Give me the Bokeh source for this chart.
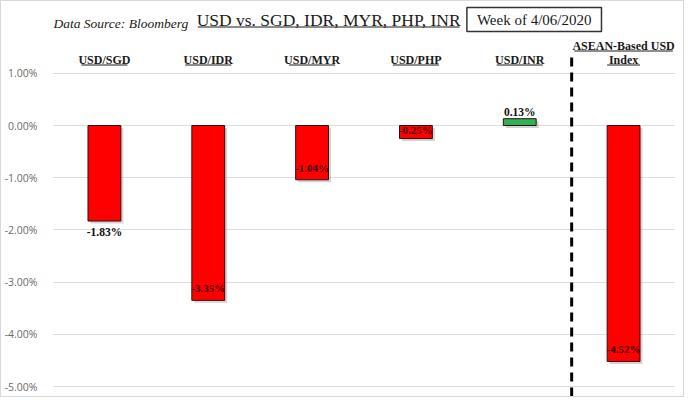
import numpy as np
from bokeh.plotting import figure
from bokeh.layouts import column
from bokeh.models import Range1d, FixedTicker, PrintfTickFormatter, Label
from bokeh.core.properties import value
from bokeh.embed import file_html
from bokeh.resources import INLINE

# ---- data ----
categories = ["USD/SGD", "USD/IDR", "USD/MYR", "USD/PHP", "USD/INR", "ASEAN-Based USD\nIndex"]
changes = [-1.83, -3.35, -1.04, -0.25, 0.13, -4.52]
value_labels = ["-1.83%", "-3.35%", "-1.04%", "-0.25%", "0.13%", "-4.52%"]
y_ticks = [-5, -4, -3, -2, -1, 0, 1]
title_text = "USD vs. SGD, IDR, MYR, PHP, INR"
source_text = "Data Source: Bloomberg"
week_text = "Week of 4/06/2020"

# ---- geometry helpers (page pixels -> data) ----
PX_X = 104.33   # pixels per category
PX_Y = 52.2     # pixels per 1%
ZERO_PAGE_Y = 133
FRAME_LEFT_PAGE = 57
FRAME_RIGHT_PAGE = 683

def dx(page_x):
    return (page_x - FRAME_LEFT_PAGE) / PX_X

def dy(page_y):
    return (ZERO_PAGE_Y - page_y) / PX_Y

W = 682
TOP, SPLIT, BOTTOM = 9, 47, 404
serif = value("Liberation Serif")

# ---------- header strip (frame is aligned with the chart frame below) ----------
hdr = figure(width=W, height=SPLIT - TOP, output_backend="svg", toolbar_location=None,
             x_axis_type=None, y_axis_type=None,
             x_range=Range1d(FRAME_LEFT_PAGE, FRAME_RIGHT_PAGE), y_range=Range1d(SPLIT, TOP),
             min_border=0, outline_line_color=None,
             background_fill_color="white", border_fill_color="white")
hdr.xgrid.grid_line_color = None
hdr.ygrid.grid_line_color = None
hdr.add_layout(Label(x=334.5, y=27, text=title_text, text_align="center", text_baseline="middle",
                     text_font="Liberation Serif", text_font_size="17.5px", text_color="#1a1a1a"))
hdr.segment(x0=[203], y0=[34.5], x1=[466], y1=[34.5], line_color="#1a1a1a", line_width=1)
hdr.add_layout(Label(x=58, y=31, text=source_text, text_align="left", text_baseline="middle",
                     text_font="Liberation Serif", text_font_style="italic", text_font_size="13.5px",
                     text_color="#1a1a1a"))
hdr.add_layout(Label(x=541, y=27, text=week_text, text_align="center", text_baseline="middle",
                     text_font="Liberation Serif", text_font_size="15px", text_color="#1a1a1a",
                     border_line_color="#333333", border_line_width=1.5,
                     padding=dict(left=10, right=10, top=4, bottom=4),
                     background_fill_color="white"))

# ---------- main chart ----------
p = figure(width=W, height=BOTTOM - SPLIT, output_backend="svg", toolbar_location=None,
           x_axis_type=None, x_range=Range1d(0, len(categories)),
           y_range=Range1d(dy(BOTTOM), dy(SPLIT)),
           min_border_left=FRAME_LEFT_PAGE - TOP, min_border_right=TOP + W - FRAME_RIGHT_PAGE,
           min_border_top=0, min_border_bottom=0,
           outline_line_color=None, background_fill_color="white", border_fill_color="white")

ax = p.yaxis[0]
ax.ticker = FixedTicker(ticks=y_ticks)
ax.formatter = PrintfTickFormatter(format="%.2f%%")
ax.axis_line_color = None
ax.major_tick_line_color = None
ax.minor_tick_line_color = None
ax.major_label_text_font = "Open Sans"
ax.major_label_text_font_size = "10.5px"
ax.major_label_text_color = "#6b6b6b"
ax.major_label_standoff = 9
p.ygrid.grid_line_color = "#dedede"
p.ygrid.grid_line_width = 1
p.xgrid.grid_line_color = None

xs = np.arange(len(categories)) + 0.5
vals = np.array(changes)
colors = ["#ff0000" if v < 0 else "#2bb35a" for v in vals]
bw = 33 / PX_X

# soft shadow
sh_dx = 2.5 / PX_X
sh_dy = 2.5 / PX_Y
p.vbar(x=xs + sh_dx, width=bw, top=np.maximum(vals, 0) - sh_dy, bottom=np.minimum(vals, 0) - sh_dy,
       fill_color="#808080", fill_alpha=0.35, line_color=None)
# bars
p.vbar(x=xs, width=bw, top=np.maximum(vals, 0), bottom=np.minimum(vals, 0),
       fill_color=colors, line_color="#3b0a0a", line_width=1)

# value labels
for i, (x, v, t) in enumerate(zip(xs, vals, value_labels)):
    bar_px = abs(v) * PX_Y
    if i == 0:
        p.text(x=[x], y=[v], text=[t], text_align="center", text_baseline="top", y_offset=5,
               text_font=serif, text_font_style="bold", text_font_size="11.5px", text_color="#111111")
    elif v > 0:
        p.text(x=[x], y=[v], text=[t], text_align="center", text_baseline="bottom", y_offset=-1,
               text_font=serif, text_font_style="bold", text_font_size="11.5px", text_color="#111111")
    else:
        off = -min(12, bar_px / 2 + 2)
        p.text(x=[x], y=[v], text=[t], text_align="center", text_baseline="middle", y_offset=off,
               text_font=serif, text_font_style="bold", text_font_size="11px", text_color="#3a0000")

# category headers (bold, underlined)
char_w = 6.6
hx, hy, ht = [], [], []
ux0, ux1, uy = [], [], []
for x, c in zip(xs, categories):
    lines = c.split("\n")
    n = len(lines)
    for j, line in enumerate(lines):
        py = 67 - (n - 1 - j) * 14
        hx.append(x); hy.append(dy(py)); ht.append(line)
        half = len(line) * char_w / 2 / PX_X
        ux0.append(x - half); ux1.append(x + half); uy.append(dy(py + 5.5))
p.text(x=hx, y=hy, text=ht, text_align="center", text_baseline="middle",
       text_font=serif, text_font_style="bold", text_font_size="12px", text_color="#1a1a1a")
p.segment(x0=ux0, y0=uy, x1=ux1, y1=uy, line_color="#1a1a1a", line_width=1)

# dashed divider before the index
p.segment(x0=[len(categories) - 1], y0=[dy(65)], x1=[len(categories) - 1], y1=[dy(406)],
          line_color="black", line_width=3, line_dash="9 6")

layout = column(hdr, p, spacing=0, styles={"border": "1px solid #d9d9d9"})
open("out.html", "w").write(file_html(layout, INLINE))
